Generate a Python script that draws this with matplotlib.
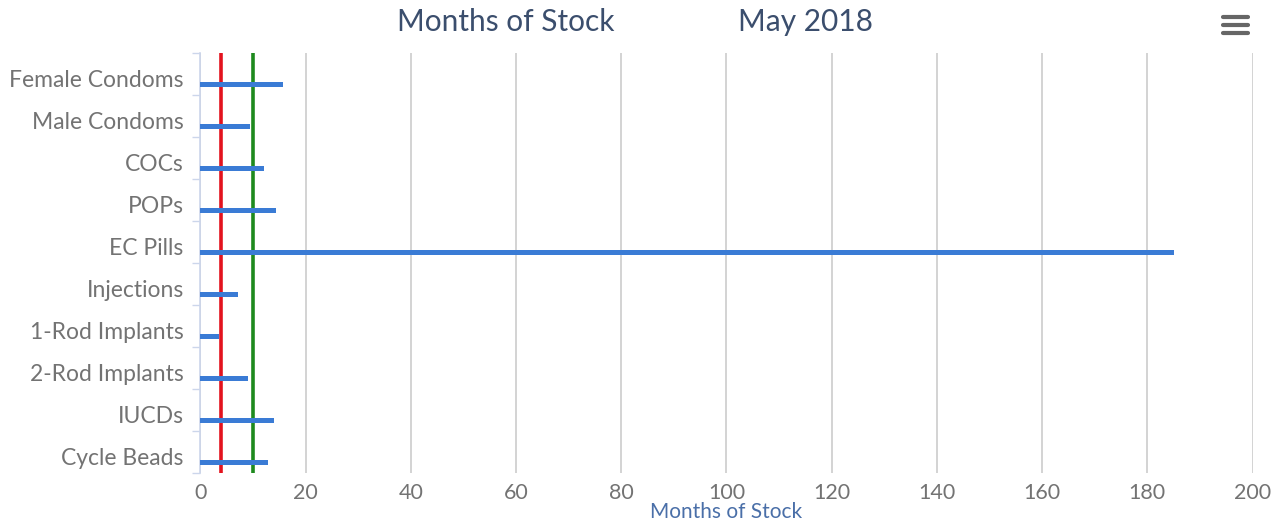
import matplotlib
matplotlib.use("Agg")
import matplotlib.pyplot as plt
from matplotlib.lines import Line2D

categories = ["Female Condoms", "Male Condoms", "COCs", "POPs", "EC Pills",
              "Injections", "1-Rod Implants", "2-Rod Implants", "IUCDs", "Cycle Beads"]
months_of_stock = [15.8, 9.5, 12.2, 14.3, 185, 7.2, 3.6, 9.0, 14.0, 12.8]
min_level = 4
max_level = 10
x_ticks = [0, 20, 40, 60, 80, 100, 120, 140, 160, 180, 200]

W, H = 1275, 523
fig = plt.figure(figsize=(W / 100, H / 100), dpi=100)
left, right, top, bottom = 200.3, 1252.5, 53, 473
ax = fig.add_axes([left / W, 1 - bottom / H, (right - left) / W, (bottom - top) / H])

font = "Lato"
n = len(categories)
pos = list(range(n))
bar_off = 0.24
ax.barh([p + bar_off for p in pos], months_of_stock, height=0.12, color="#3a7bd5", zorder=3)
ax.axvline(min_level, color="#e3131e", lw=2.6, zorder=2)
ax.axvline(max_level, color="#1e8a1e", lw=2.6, zorder=2)

ax.set_xlim(0, 200)
ax.set_ylim(n - 0.5, -0.5)
ax.set_xticks(x_ticks)
ax.set_xticklabels([str(t) for t in x_ticks], fontsize=15.5, color="#737373", family=font)
ax.grid(axis="x", color="#d0d0d0", lw=1.3, zorder=0)
ax.tick_params(axis="x", length=0, pad=7)

# category boundaries as ticks, labels as minor ticks
ax.set_yticks([p - 0.5 for p in range(n + 1)])
ax.set_yticklabels([])
ax.tick_params(axis="y", which="major", length=6, color="#ccd6eb", width=1)
ax.set_yticks([p + 0.1 for p in pos], minor=True)
ax.set_yticklabels(categories, minor=True, fontsize=16.5, color="#737373", family=font)
ax.tick_params(axis="y", which="minor", length=0, pad=12)

for s in ["top", "right", "bottom"]:
    ax.spines[s].set_visible(False)
ax.spines["left"].set_color("#ccd6eb")
ax.spines["left"].set_linewidth(1.2)

fig.text(506 / W, 1 - 22 / H, "Months of Stock", fontsize=21.5, color="#3b4e6d",
         family=font, ha="center", va="center")
fig.text(805 / W, 1 - 22 / H, "May 2018", fontsize=21.5, color="#3b4e6d",
         family=font, ha="center", va="center")
fig.text(726 / W, 1.5 / H, "Months of Stock", fontsize=15, color="#4a6fa8",
         family=font, ha="center", va="bottom")

# menu icon
for yy in [17.3, 25, 33]:
    fig.add_artist(Line2D([1223 / W, 1248 / W], [1 - yy / H, 1 - yy / H],
                          color="#666666", lw=3, solid_capstyle="round"))

fig.savefig("out.png", dpi=100)
